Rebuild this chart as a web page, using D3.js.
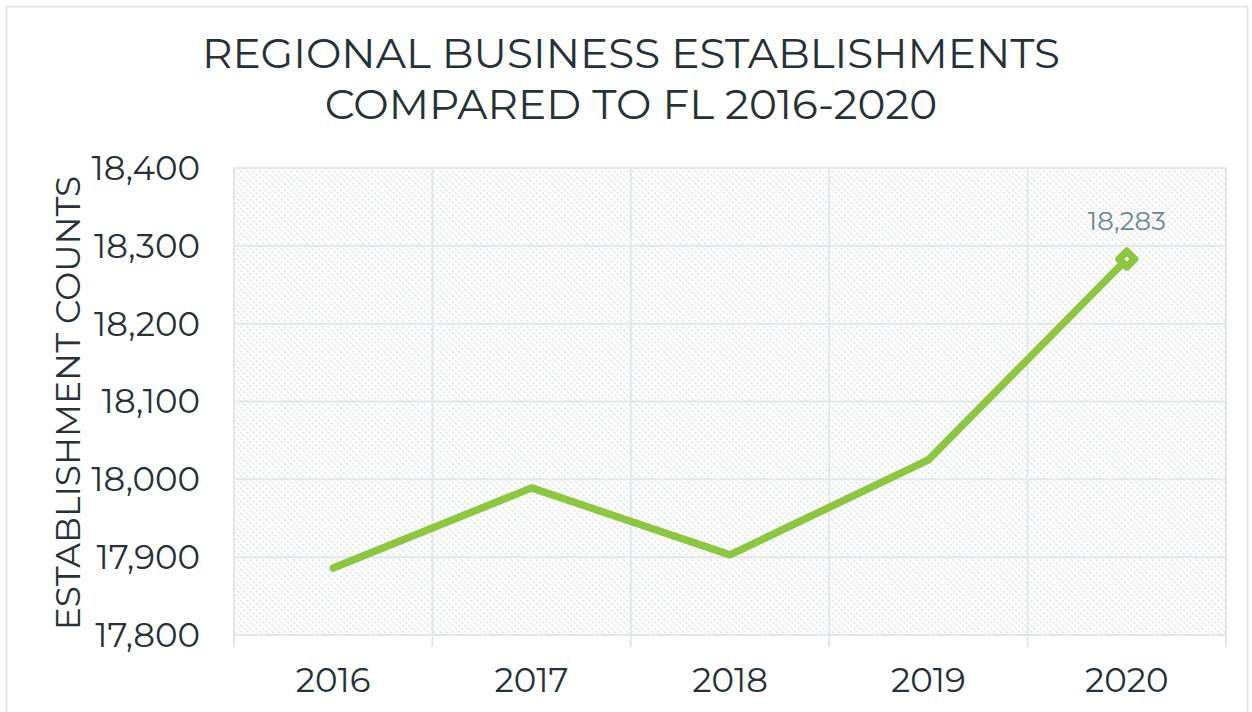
<!DOCTYPE html>
<html><head><meta charset="utf-8">
<script src="https://cdn.jsdelivr.net/npm/d3@7"></script>
<style>
html,body{margin:0;padding:0;background:#fff;}
svg{display:block;font-family:"Montserrat","Open Sans","Noto Sans",sans-serif;}
</style></head>
<body>
<svg id="c" width="1252" height="712"></svg>
<script>
const years = ["2016","2017","2018","2019","2020"];
const counts = [17886, 17989, 17903, 18025, 18283];
const yTicks = [17800, 17900, 18000, 18100, 18200, 18300, 18400];
const titleLines = ["REGIONAL BUSINESS ESTABLISHMENTS", "COMPARED TO FL 2016-2020"];
const yTitle = "ESTABLISHMENT COUNTS";
const labelIndex = 4;

const svg = d3.select("#c");
const W = 1252, H = 712;
const m = {left:234, right:1226, top:168, bottom:635};

// outer border
svg.append("rect").attr("x",6.5).attr("y",6.5).attr("width",W-11).attr("height",H-5)
  .attr("fill","#fff").attr("stroke","#e3e7ea").attr("stroke-width",2);

// pattern
const defs = svg.append("defs");
const pat = defs.append("pattern").attr("id","hatch").attr("patternUnits","userSpaceOnUse")
  .attr("width",4.4).attr("height",4.4).attr("patternTransform","rotate(-45)");
pat.append("line").attr("x1",1).attr("y1",0).attr("x2",1).attr("y2",4.4)
  .attr("stroke","#e1e5e8").attr("stroke-width",1.4).attr("stroke-dasharray","3,1.4");

const x = d3.scaleBand().domain(years).range([m.left, m.right]);
const y = d3.scaleLinear().domain([17800, 18400]).range([m.bottom, m.top]);

svg.append("rect").attr("x",m.left).attr("y",m.top).attr("width",m.right-m.left).attr("height",m.bottom-m.top)
  .attr("fill","url(#hatch)");

// horizontal gridlines
svg.append("g").selectAll("line").data(yTicks).join("line")
  .attr("x1",m.left).attr("x2",m.right).attr("y1",d=>y(d)).attr("y2",d=>y(d))
  .attr("stroke","#e3e7ea").attr("stroke-width",2);

// vertical gridlines at band edges
const edges = years.map(d=>x(d)).concat([x(years[years.length-1])+x.bandwidth()]);
svg.append("g").selectAll("line").data(edges).join("line")
  .attr("x1",d=>d).attr("x2",d=>d).attr("y1",m.top).attr("y2",m.bottom+12)
  .attr("stroke","#e3e7ea").attr("stroke-width",2);

// y tick labels
svg.append("g").selectAll("text").data(yTicks).join("text")
  .attr("x",200).attr("y",d=>y(d)).attr("dy","0.35em").attr("text-anchor","end")
  .attr("font-size",34).attr("fill","#263238").text(d=>d3.format(",")(d));

// x tick labels
svg.append("g").selectAll("text").data(years).join("text")
  .attr("x",d=>x(d)+x.bandwidth()/2).attr("y",692).attr("text-anchor","middle")
  .attr("font-size",34).attr("fill","#263238").text(d=>d);

// titles
svg.append("g").selectAll("text").data(titleLines).join("text")
  .attr("x",631).attr("y",(d,i)=>68+i*51).attr("text-anchor","middle")
  .attr("font-size",42.2).attr("fill","#263238").text(d=>d);

svg.append("text").attr("transform","translate(80,403) rotate(-90)").attr("text-anchor","middle")
  .attr("font-size",34.5).attr("fill","#263238").text(yTitle);

// line
const cx = (d,i)=>x(years[i])+x.bandwidth()/2;
const line = d3.line().x((d,i)=>cx(d,i)).y(d=>y(d));
svg.append("path").datum(counts).attr("d",line).attr("fill","none")
  .attr("stroke","#8dc63f").attr("stroke-width",7.5).attr("stroke-linecap","round").attr("stroke-linejoin","round");

// marker
const mx = cx(counts[labelIndex],labelIndex), my = y(counts[labelIndex]);
svg.append("rect").attr("x",mx-5.5).attr("y",my-5.5).attr("width",11).attr("height",11)
  .attr("transform",`rotate(45,${mx},${my})`).attr("fill","#fff")
  .attr("stroke","#8dc63f").attr("stroke-width",7.5).attr("stroke-linejoin","round");

svg.append("text").attr("x",mx).attr("y",my-29).attr("text-anchor","middle")
  .attr("font-size",26).attr("fill","#6e8792").text(d3.format(",")(counts[labelIndex]));
</script>
</body></html>
